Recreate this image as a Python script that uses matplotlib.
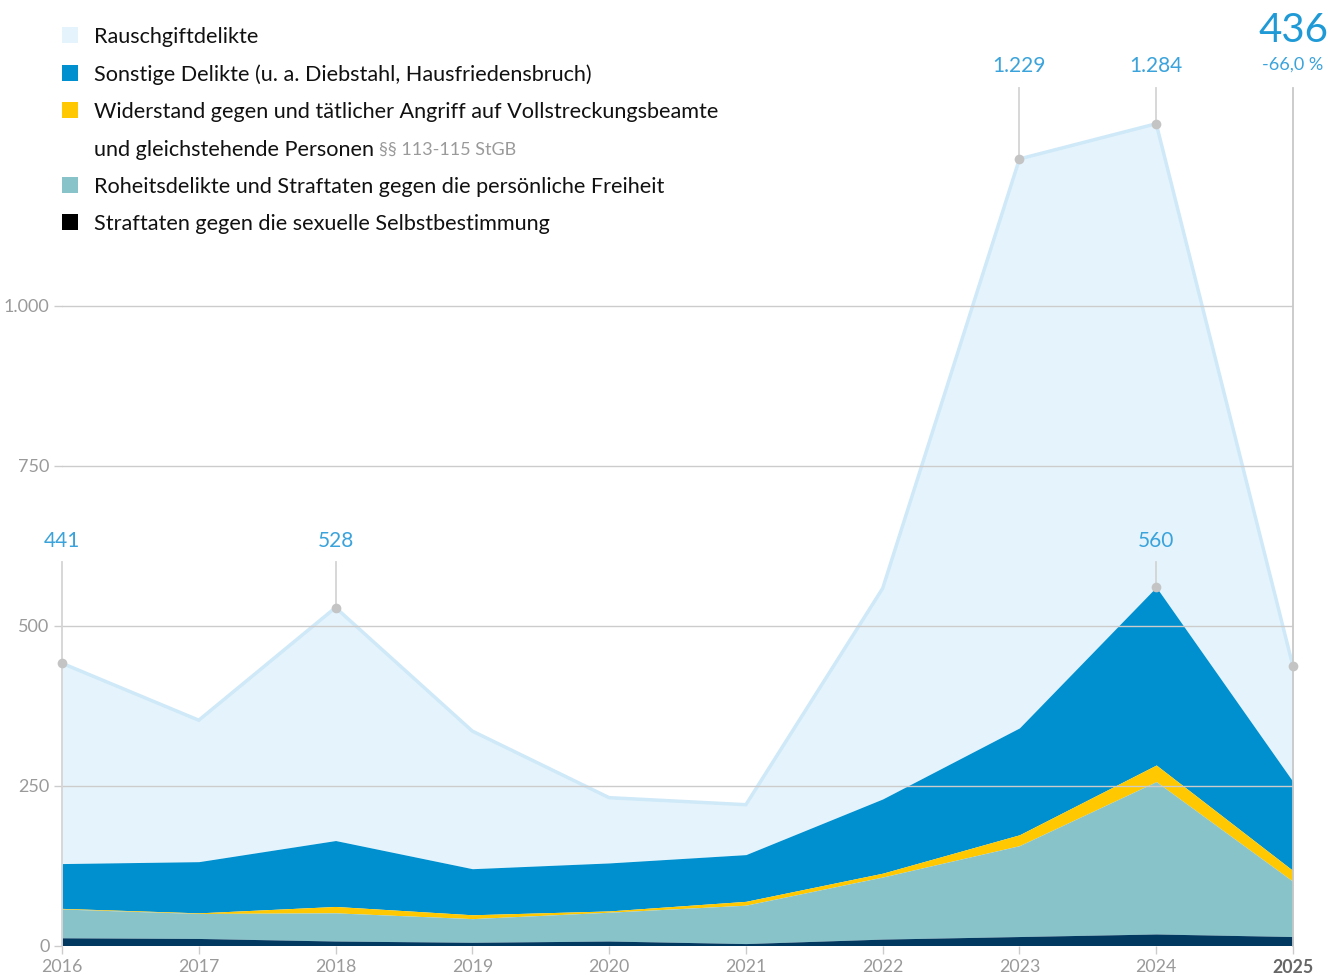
import matplotlib
matplotlib.use('Agg')
import matplotlib.pyplot as plt
from matplotlib.patches import Rectangle

plt.rcParams['font.family'] = ['Lato', 'DejaVu Sans']

# ---- data ----
years = [2016, 2017, 2018, 2019, 2020, 2021, 2022, 2023, 2024, 2025]
sexual = [12, 11, 7, 5, 7, 3, 10, 14, 18, 14]
roheit = [45, 39, 44, 37, 45, 60, 97, 142, 238, 86]
widerstand = [1, 1, 10, 6, 2, 6, 6, 17, 26, 17]
sonstige = [70, 80, 103, 72, 75, 73, 116, 167, 278, 139]
rausch = [313, 221, 364, 215, 102, 78, 329, 889, 724, 180]

legend_labels = [
    "Rauschgiftdelikte",
    "Sonstige Delikte (u. a. Diebstahl, Hausfriedensbruch)",
    "Widerstand gegen und tätlicher Angriff auf Vollstreckungsbeamte",
    "Roheitsdelikte und Straftaten gegen die persönliche Freiheit",
    "Straftaten gegen die sexuelle Selbstbestimmung",
]
legend_note = "und gleichstehende Personen"
legend_note2 = "§§ 113-115 StGB"
yticks = [0, 250, 500, 750, 1000]
ytick_labels = ["0", "250", "500", "750", "1.000"]
change_label = "-66,0 %"

# colours
c_rausch = '#e5f4fc'
c_rausch_edge = '#cfe9f8'
c_sonst = '#008fcf'
c_wid = '#ffc800'
c_roh = '#88c3ca'
c_sex = '#023961'
c_blue_txt = '#3aa3db'
c_gray = '#9a9a9a'
c_line = '#cccccc'

W, H = 1339, 976
fig = plt.figure(figsize=(W / 100, H / 100), dpi=100)
x0_px, x1_px = 62, 1293
y0_px = 945.5
ppu = 0.64
ax = fig.add_axes([x0_px / W, (H - y0_px) / H, (x1_px - x0_px) / W, y0_px / H])
ax.set_xlim(years[0], years[-1])
ax.set_ylim(0, y0_px / ppu)
for s in ax.spines.values():
    s.set_visible(False)

# stacking
l1 = sexual
l2 = [a + b for a, b in zip(l1, roheit)]
l3 = [a + b for a, b in zip(l2, widerstand)]
l4 = [a + b for a, b in zip(l3, sonstige)]
l5 = [a + b for a, b in zip(l4, rausch)]
zero = [0] * len(years)

ax.fill_between(years, l4, l5, color=c_rausch, lw=0, zorder=2)
ax.plot(years, l5, color=c_rausch_edge, lw=2.5, zorder=3, solid_joinstyle='miter')
ax.fill_between(years, l3, l4, color=c_sonst, lw=0, zorder=2)
ax.fill_between(years, l2, l3, color=c_wid, lw=0, zorder=2)
ax.fill_between(years, l1, l2, color=c_roh, lw=0, zorder=2)
ax.fill_between(years, zero, l1, color=c_sex, lw=0, zorder=2)

# grid
for yv in yticks:
    ax.axhline(yv, color=c_line, lw=1, zorder=4 if yv > 0 else 1)
ax.set_yticks(yticks)
ax.set_yticklabels(ytick_labels)
ax.tick_params(axis='y', length=6, width=1, color=c_line, pad=3,
               labelsize=13, labelcolor=c_gray)
ax.set_xticks(years)
ax.set_xticklabels([str(y) for y in years])
ax.tick_params(axis='x', length=6, width=1, color=c_line, pad=4,
               labelsize=12.8, labelcolor=c_gray)
xl = ax.get_xticklabels()[-1]
xl.set_fontweight('bold')
xl.set_color('#666666')

# annotations
low_lab = (y0_px - 541) / ppu
low_top = (y0_px - 562) / ppu
hi_lab = (y0_px - 66) / ppu
hi_top = (y0_px - 88) / ppu

ann = [(0, l5[0], 'low'), (2, l5[2], 'low'), (7, l5[7], 'hi'),
       (8, l5[8], 'hi'), (8, l4[8], 'low')]
for i, v, pos in ann:
    yr = years[i]
    lab_y = low_lab if pos == 'low' else hi_lab
    top = low_top if pos == 'low' else hi_top
    bottom = 0 if i == 0 else v
    ax.plot([yr, yr], [bottom, top], color='#d4d4d4', lw=1.3, zorder=5, clip_on=False)
    ax.plot([yr], [v], 'o', color='#c4c4c4', ms=7, zorder=6, clip_on=False, mec='none')
    txt = f"{v:,}".replace(',', '.')
    ax.text(yr, lab_y, txt, ha='center', va='center', fontsize=15,
            color=c_blue_txt, zorder=7)

# current year
ax.plot([years[-1], years[-1]], [0, hi_top], color='#c8c8c8', lw=1.3, zorder=5, clip_on=False)
ax.plot([years[-1]], [l5[-1]], 'o', color='#c4c4c4', ms=7, zorder=6, clip_on=False, mec='none')
ax.text(years[-1], (y0_px - 31) / ppu, f"{l5[-1]}", ha='center', va='center',
        fontsize=29, color='#1f9ad6', zorder=7)
ax.text(years[-1], (y0_px - 65) / ppu, change_label, ha='center', va='center',
        fontsize=13, color=c_blue_txt, zorder=7)

# legend
leg_colors = [c_rausch, c_sonst, c_wid, c_roh, '#000000']
leg_rows = [35, 73, 110, 185, 222]
fs_leg = 15.6
for col, lab, ry in zip(leg_colors, legend_labels, leg_rows):
    fig.patches.append(Rectangle((62 / W, (H - ry - 8) / H), 16 / W, 16 / H,
                                 transform=fig.transFigure, color=col, lw=0))
    fig.text(94 / W, (H - ry - 2) / H, lab, ha='left', va='center', fontsize=fs_leg, color='#111111')
t = fig.text(94 / W, (H - 150) / H, legend_note, ha='left', va='center', fontsize=fs_leg, color='#111111')
fig.canvas.draw()
bb = t.get_window_extent()
fig.text((bb.x1 + 5) / W, (H - 150) / H, legend_note2, ha='left', va='center',
         fontsize=13, color=c_gray)

fig.savefig('out.png', dpi=100)
